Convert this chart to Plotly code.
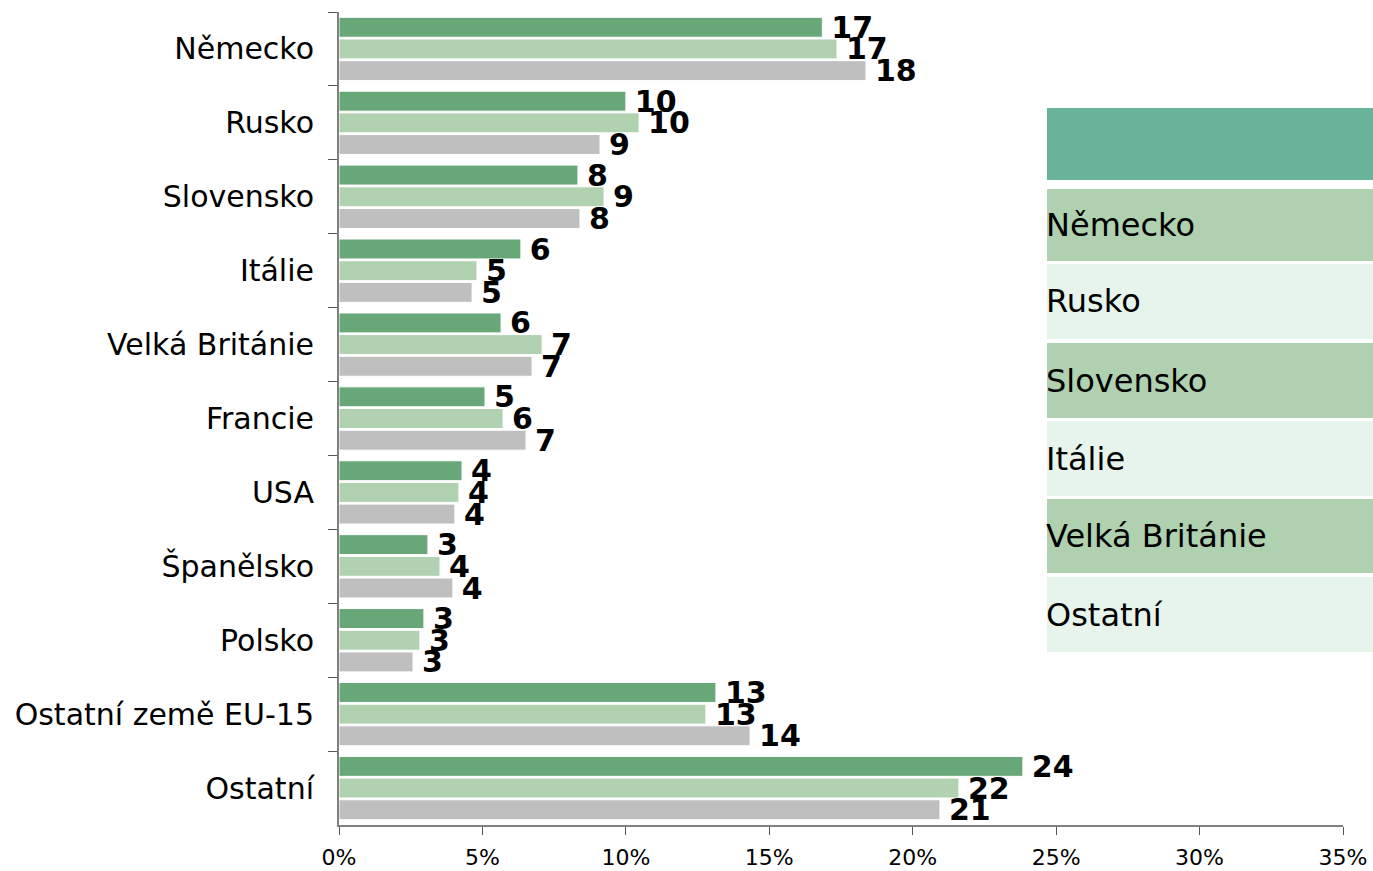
import plotly.graph_objects as go

categories = ["Německo", "Rusko", "Slovensko", "Itálie", "Velká Británie", "Francie",
              "USA", "Španělsko", "Polsko", "Ostatní země EU-15", "Ostatní"]
series_a = [16.85, 10.0, 8.33, 6.34, 5.65, 5.09, 4.29, 3.10, 2.96, 13.14, 23.84]
series_b = [17.36, 10.46, 9.24, 4.81, 7.08, 5.72, 4.18, 3.52, 2.82, 12.79, 21.61]
series_c = [18.37, 9.10, 8.40, 4.64, 6.73, 6.52, 4.04, 3.97, 2.58, 14.33, 20.95]
series_colors = ["#68a878", "#b0d2b1", "#bfbfbf"]
legend_rows = ["", "Německo", "Rusko", "Slovensko", "Itálie", "Velká Británie", "Ostatní"]
legend_colors = ["#68b399", "#afd1b0", "#e6f4ec", "#afd1b0", "#e6f4ec", "#afd1b0", "#e6f4ec"]
legend_px = [(108, 180), (189, 261), (264, 339), (343, 418), (421, 496), (499, 573), (577, 652)]
x_ticks = [0, 5, 10, 15, 20, 25, 30, 35]
x_ticktext = [f"{v}%" for v in x_ticks]

W, H = 1373, 871
L, R, T, B = 339, 30, 12, 46
PW, PH = W - L - R, H - T - B

def px_x(p):
    return (p - L) / PW

def px_y(p):
    return (H - B - p) / PH

fig = go.Figure()
for vals, col in zip([series_a, series_b, series_c], series_colors):
    fig.add_trace(go.Bar(
        y=categories, x=vals, orientation="h",
        marker=dict(color=col, line=dict(color="white", width=1)),
        texttemplate="\u2009%{x:.0f}", textposition="outside", constraintext="none",
        cliponaxis=False,
        textfont=dict(family="DejaVu Sans", size=30, color="black", weight="bold"),
        showlegend=False, hoverinfo="skip",
    ))

shapes = []
annotations = []
for label, col, (y0, y1) in zip(legend_rows, legend_colors, legend_px):
    shapes.append(dict(type="rect", xref="paper", yref="paper",
                       x0=px_x(1047), x1=px_x(1373), y0=px_y(y1), y1=px_y(y0),
                       fillcolor=col, line=dict(width=0), layer="above"))
    if label:
        annotations.append(dict(xref="paper", yref="paper", x=px_x(1044),
                                y=px_y((y0 + y1) / 2), text=label, showarrow=False,
                                xanchor="left", yanchor="middle",
                                font=dict(family="DejaVu Sans", size=32, color="black")))

fig.update_layout(
    width=W, height=H,
    margin=dict(l=L, r=R, t=T, b=B, pad=0, autoexpand=False),
    paper_bgcolor="white", plot_bgcolor="white",
    barmode="group", bargap=0.12, bargroupgap=0.08,
    shapes=shapes, annotations=annotations,
    xaxis=dict(range=[0, 35], tickmode="array", tickvals=x_ticks, ticktext=x_ticktext,
               automargin=False,
               showgrid=False, zeroline=False, showline=True, linecolor="#808080",
               linewidth=2, ticks="outside", ticklen=8, tickcolor="#555555",
               ticklabelstandoff=4,
               tickfont=dict(family="DejaVu Sans", size=22, color="black")),
    yaxis=dict(autorange="reversed", automargin=False, showgrid=False, zeroline=False,
               showline=True, linecolor="#808080", linewidth=2, ticks="outside",
               ticklen=9, tickson="boundaries", tickcolor="#555555", ticklabelstandoff=17,
               tickfont=dict(family="DejaVu Sans", size=30, color="black")),
)

fig.write_html("out.html", config={"displayModeBar": False},
               post_script="document.body.style.margin='0';")
